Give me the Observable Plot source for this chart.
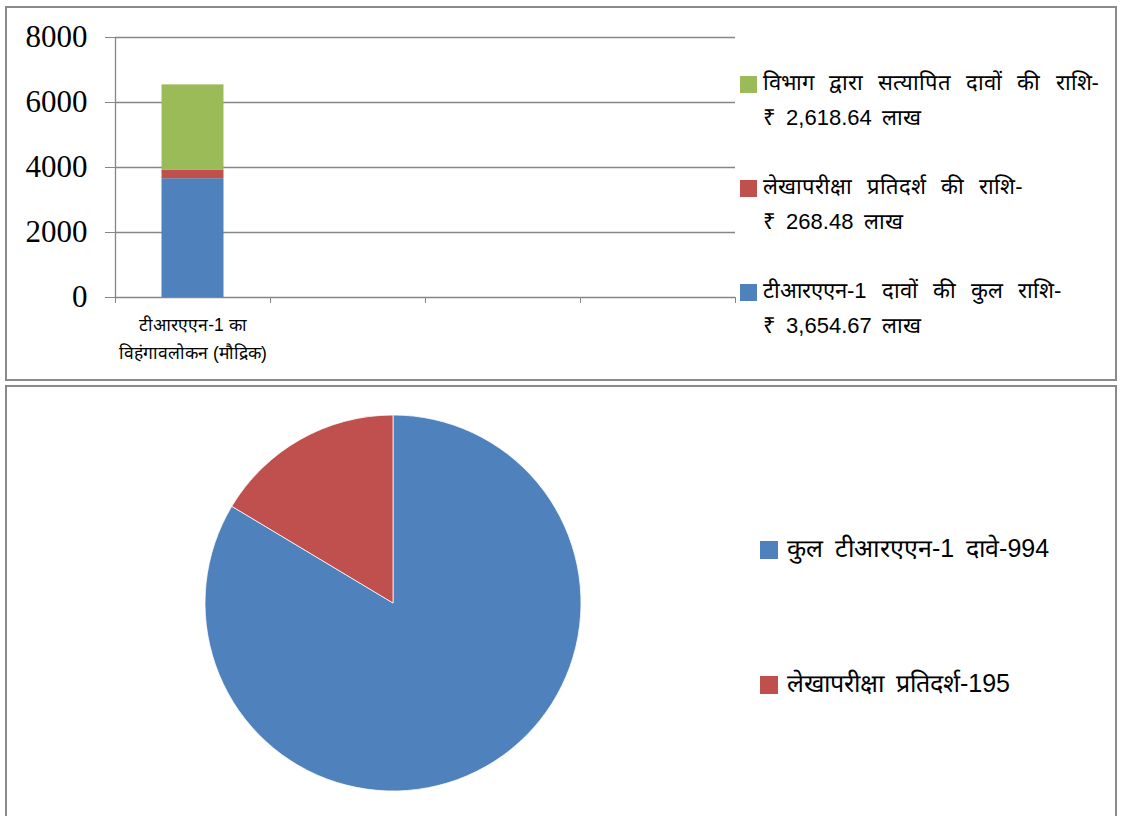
<!DOCTYPE html>
<html><head><meta charset="utf-8">
<script src="https://cdn.jsdelivr.net/npm/d3@7"></script>
<script src="https://cdn.jsdelivr.net/npm/@observablehq/plot@0.6"></script>
<style>
html,body{margin:0;padding:0;background:#fff;}
body{width:1121px;height:816px;overflow:hidden;position:relative;font-family:"Liberation Sans",Arial,sans-serif;}
.panel{position:absolute;box-sizing:border-box;border:2px solid #8a8a8a;}
#p1{left:5px;top:6px;width:1112px;height:375px;}
#p2{left:5px;top:385px;width:1112px;height:470px;}
#bar{position:absolute;left:0;top:0;}
#pie{position:absolute;left:0;top:385px;}
.legend{position:absolute;color:#000;}
#leg1{font-size:22px;}
#leg2{font-size:25px;word-spacing:5px;}
.item{position:absolute;left:0;white-space:nowrap;}
.sw{position:absolute;left:0;width:17px;height:17px;}
.txt{position:absolute;line-height:35px;}
#leg1 .l1{word-spacing:9px;}
#leg1 .l2{word-spacing:4px;}
#bar svg text{fill:#000;}
</style>
</head><body>
<div class="panel" id="p1"></div>
<div class="panel" id="p2"></div>
<div id="bar"></div>
<div id="pie"></div>
<div class="legend" id="leg1" style="left:740px;top:65px;"></div>
<div class="legend" id="leg2" style="left:760px;top:531px;"></div>
<script>
// ---- data ----
const categories = ["टीआरएएन-1 का\nविहंगावलोकन (मौद्रिक)"];
const slotCount = 4;
const seriesNames = ["टीआरएएन-1 दावों की कुल राशि-", "लेखापरीक्षा प्रतिदर्श की राशि-", "विभाग द्वारा सत्यापित दावों की राशि-"];
const seriesValueLabels = ["₹ 3,654.67 लाख", "₹ 268.48 लाख", "₹ 2,618.64 लाख"];
const seriesValues = [3654.67, 268.48, 2618.64];
const seriesColors = ["#4F81BD", "#C0504D", "#9BBB59"];
const yTicks = [0, 2000, 4000, 6000, 8000];
const pieLabels = ["कुल टीआरएएन-1 दावे-994", "लेखापरीक्षा प्रतिदर्श-195"];
const pieValues = [994, 195];
const pieColors = ["#4F81BD", "#C0504D"];

// ---- bar chart ----
const gapWidth = 1.5; // Excel-style gap width
const barFrac = 1 / (1 + gapWidth);
const rows = seriesNames.map((s, j) => ({cat: categories[0], idx: 0, series: s, value: seriesValues[j]}));
const catRows = categories.map((c, i) => ({c, i}));

const bar = Plot.plot({
  width: 760, height: 380,
  marginLeft: 115, marginRight: 25, marginTop: 37, marginBottom: 83,
  style: {color: "#868686", background: "transparent", overflow: "visible"},
  x: {domain: [0, slotCount], ticks: d3.range(slotCount + 1), tickFormat: () => "", tickSize: 6, label: null},
  y: {domain: [0, 8000], ticks: yTicks, tickFormat: () => "", tickSize: 10, label: null},
  color: {domain: seriesNames, range: seriesColors},
  marks: [
    Plot.ruleY(yTicks, {strokeWidth: 1.3}),
    Plot.ruleX([0], {strokeWidth: 1.3}),
    Plot.rectY(rows, {x1: d => d.idx + (1 - barFrac) / 2, x2: d => d.idx + 1 - (1 - barFrac) / 2, y: "value", fill: "series"}),
    Plot.text(yTicks, {x: () => 0, y: d => d, text: d => String(d), textAnchor: "end", dx: -28, fontSize: 31, fontFamily: "'Liberation Serif', 'Times New Roman', serif"}),
    Plot.text(catRows, {x: d => d.i + 0.5, y: () => 0, text: "c", dy: 14, lineAnchor: "top", lineHeight: 1.6, fontSize: 17.5, fontFamily: "Liberation Sans, Arial, sans-serif"})
  ]
});
document.getElementById("bar").appendChild(bar);

// ---- legend 1 (reverse order like the reference) ----
const leg1 = document.getElementById("leg1");
[2, 1, 0].forEach((j, k) => {
  const it = document.createElement("div");
  it.className = "item";
  it.style.top = (k * 104) + "px";
  it.innerHTML = `<div class="sw" style="top:11px;background:${seriesColors[j]}"></div><div class="txt" style="left:23px"><span class="l1">${seriesNames[j]}</span><br><span class="l2">${seriesValueLabels[j]}</span></div>`;
  leg1.appendChild(it);
});

// ---- pie chart ----
const pieData = pieLabels.map((l, i) => ({label: l, value: pieValues[i]}));
function pieMark(index, scales, values, dims) {
  const {width, height, marginLeft, marginRight, marginTop, marginBottom} = dims;
  const iw = width - marginLeft - marginRight, ih = height - marginTop - marginBottom;
  const cx = marginLeft + iw / 2, cy = marginTop + ih / 2, r = Math.min(iw, ih) / 2;
  const col = scales && scales.color ? scales.color : (l => pieColors[pieLabels.indexOf(l)]);
  const arcs = d3.pie().sort(null).value(d => d.value)(pieData);
  const arc = d3.arc().innerRadius(0).outerRadius(r);
  const g = d3.create("svg:g").attr("transform", `translate(${cx},${cy})`);
  g.selectAll("path").data(arcs).join("path").attr("d", arc).attr("fill", d => col(d.data.label)).attr("stroke", "#fff").attr("stroke-width", 0.75);
  return g.node();
}
const pie = Plot.plot({
  width: 790, height: 431,
  marginTop: 30, marginBottom: 25, marginLeft: 205, marginRight: 209,
  style: {background: "transparent"},
  color: {domain: pieLabels, range: pieColors},
  marks: [
    Plot.dot(pieData, {fill: "label", r: 0}),
    pieMark
  ]
});
document.getElementById("pie").appendChild(pie);

// ---- legend 2 ----
const leg2 = document.getElementById("leg2");
pieLabels.forEach((l, i) => {
  const it = document.createElement("div");
  it.className = "item";
  it.style.top = (i * 135) + "px";
  it.innerHTML = `<div class="sw" style="top:10px;width:18px;height:18px;background:${pieColors[i]}"></div><div class="txt" style="left:27px">${l}</div>`;
  leg2.appendChild(it);
});
</script>
</body></html>
